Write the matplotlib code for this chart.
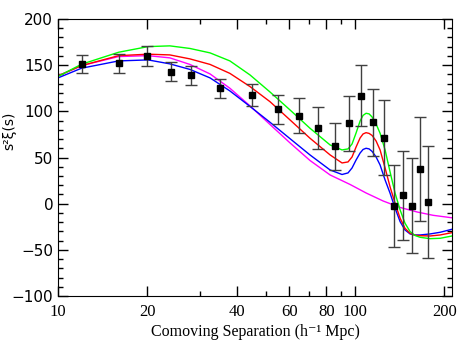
#  Two-point correlation function with model curves

import numpy as np
import matplotlib
matplotlib.use('Agg')
import matplotlib.pyplot as plt
from matplotlib.ticker import FixedLocator, FixedFormatter, MultipleLocator, NullFormatter

#  Measured points: separation, s^2 xi(s), error
s_data = [12, 16, 20, 24, 28, 35, 45, 55, 65, 75, 85.5, 95.5, 105, 115, 125, 135, 145, 155.5, 166, 176]
xi_data = [151, 152, 160, 143, 139, 125, 118, 102, 95, 82, 62, 87, 117, 88, 71.5, -2.5, 9, -2, 37.5, 1.5]
xi_err = [10, 10, 10.5, 10.5, 10.5, 10.5, 12, 16, 19, 22.5, 25, 29.5, 33, 36.5, 40.5, 44, 48.5, 51, 56, 60.5]

#  Model curves
s_model = [10, 12, 16, 20.1, 23.8, 27.8, 32.5, 37.9, 44.3, 51.7, 60.4, 70.5, 82.4, 90.4, 94.7, 97.7,
           100.8, 104, 106.4, 108.9, 111.5, 114.1, 117.7, 121.4, 126.2, 131.2, 136.4, 141.8, 147.3,
           153.2, 159.2, 165.5, 178.8, 193.3, 212]
green = [137.8, 151.0, 164.0, 170.1, 170.9, 168.1, 163.3, 154.6, 139.4, 121.0, 101.5, 81.7, 63.6, 58.2, 59.3, 64.7,
         76.6, 89.6, 95.6, 97.9, 97.2, 93.9, 86.3, 76.3, 58.2, 34.3, 11.3, -6.8, -21.2,
         -30.3, -34.5, -36.4, -37.9, -37.5, -35.0]
red = [138.4, 149.5, 160.3, 161.9, 161.1, 156.8, 150.8, 141.1, 126.8, 110.5, 90.7, 70.9, 52.8, 44.1, 45.2, 50.6,
       61.4, 71.2, 75.5, 76.9, 76.1, 73.9, 67.9, 58.2, 38.7, 18.1, 0.4, -15.8, -26.7,
       -32.1, -34.2, -34.7, -35.0, -33.9, -31.4]
blue = [136.2, 146.7, 154.6, 155.7, 151.4, 145.4, 136.2, 122.1, 105.3, 88.2, 70.4, 52.8, 36.5, 31.6, 33.3, 38.7,
        47.3, 54.9, 58.7, 60.0, 59.3, 56.6, 50.6, 41.9, 25.7, 11.3, -5.0, -19.5, -28.5,
        -32.8, -33.9, -33.9, -32.8, -31.0, -27.7]
s_nobao = [10, 12, 16, 20.1, 23.8, 27.8, 32.5, 37.9, 44.3, 51.7, 60.4, 70.5, 82.4, 96.2, 108.9, 124.3,
           141.8, 161.7, 183.0, 212]
magenta = [138.4, 149.5, 159.3, 160.3, 157.9, 150.8, 140.5, 125.0, 105.9, 85.8, 65.8, 46.8, 31.1, 20.8, 11.6, 2.9,
           -4.1, -9.0, -12.6, -15.3]

xticks = [10, 20, 40, 60, 80, 100, 200]
xminor = [30, 50, 70, 90]

serif = ['Liberation Serif', 'DejaVu Serif']

fig = plt.figure(figsize=(4.71, 3.46), dpi=100)
ax = fig.add_axes([58/471, 1 - 296/346, 394/471, 277/346])

ax.plot(s_nobao, magenta, color='#ff00ff', lw=1)
ax.plot(s_model, blue, color='#0000ff', lw=1)
ax.plot(s_model, red, color='#ff0000', lw=1)
ax.plot(s_model, green, color='#00ff00', lw=1)
ax.errorbar(s_data, xi_data, yerr=xi_err, fmt='s', color='k', ecolor='0.25',
            ms=4, capsize=4, elinewidth=1, capthick=1)

ax.set_xscale('log')
ax.set_xlim(10, 212)
ax.set_ylim(-100, 200)
ax.xaxis.set_major_locator(FixedLocator(xticks))
ax.xaxis.set_major_formatter(FixedFormatter([str(t) for t in xticks]))
ax.xaxis.set_minor_locator(FixedLocator(xminor))
ax.xaxis.set_minor_formatter(NullFormatter())
ax.yaxis.set_major_locator(MultipleLocator(50))
ax.yaxis.set_minor_locator(MultipleLocator(10))

ax.tick_params(which='both', direction='in', top=True, right=True, width=1)
ax.tick_params(which='major', length=7)
ax.tick_params(which='minor', length=3.5)
ax.tick_params(axis='x', pad=6)
for lab in ax.get_xticklabels():
    lab.set_family(serif)
    lab.set_fontsize(12)
for lab in ax.get_yticklabels():
    lab.set_fontsize(11)

ax.set_xlabel('Comoving Separation (h\u207b\u00b9 Mpc)', family=serif, fontsize=11.5, labelpad=3)
ax.set_ylabel('s\u00b2\u03be(s)', fontsize=10)
ax.yaxis.set_label_coords(-0.107, 0.596)

plt.savefig('out.png', dpi=100)
